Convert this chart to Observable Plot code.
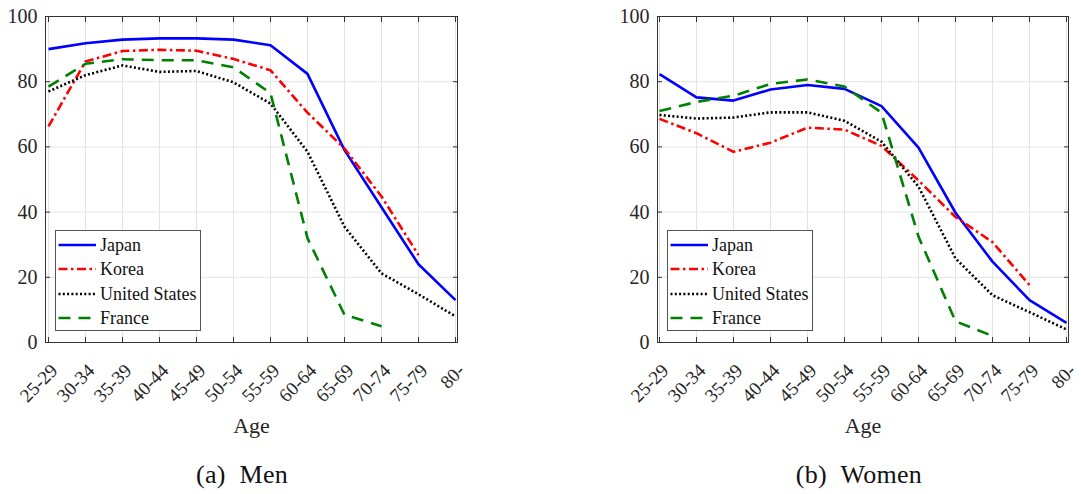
<!DOCTYPE html>
<html>
<head>
<meta charset="utf-8">
<script src="https://cdn.jsdelivr.net/npm/d3@7"></script>
<script src="https://cdn.jsdelivr.net/npm/@observablehq/plot@0.6"></script>
<style>
  html, body { margin: 0; padding: 0; background: white; }
  #root { position: relative; width: 1081px; height: 494px; overflow: hidden; font-family: "Liberation Serif", serif; color: #262626; }
  .panel { position: absolute; top: 0; height: 494px; }
  .legend { position: absolute; background: white; border: 1px solid #555; box-sizing: border-box; }
  .legend .row { position: absolute; left: 0; height: 24px; display: flex; align-items: center; }
  .legend .row svg { display: block; }
  .legend .row span { font-size: 18px; line-height: 18px; margin-left: 1px; color: #111; font-family: "Liberation Serif", serif; white-space: nowrap; }
  .caption { position: absolute; font-size: 26px; line-height: 26px; color: #111; white-space: nowrap; transform: translateX(-50%); font-family: "Liberation Serif", serif; word-spacing: 7px; letter-spacing: 0.3px; }
</style>
</head>
<body>
<div id="root"></div>
<script>
const ages = ["25-29","30-34","35-39","40-44","45-49","50-54","55-59","60-64","65-69","70-74","75-79","80-"];
const countries = ["Japan", "Korea", "United States", "France"];
const yTicks = [0, 20, 40, 60, 80, 100];

// Men (a)
const menJapan  = [90.0, 91.8, 92.9, 93.3, 93.3, 92.9, 91.2, 82.4, 59.0, 41.5, 24.0, 13.0];
const menKorea  = [66.3, 86.2, 89.4, 89.8, 89.5, 87.0, 83.5, 70.5, 59.5, 44.8, 26.8, null];
const menUS     = [77.0, 82.0, 85.0, 83.0, 83.3, 79.8, 73.3, 58.5, 35.5, 21.2, 14.8, 8.0];
const menFrance = [78.5, 85.5, 86.9, 86.6, 86.6, 84.4, 76.5, 32.0, 8.5, 5.0, null, null];

// Women (b)
const womenJapan  = [82.3, 75.2, 74.2, 77.6, 79.0, 77.8, 72.5, 59.8, 39.8, 24.8, 13.0, 6.0];
const womenKorea  = [68.6, 64.2, 58.5, 61.3, 65.9, 65.3, 60.3, 49.7, 38.5, 30.8, 17.6, null];
const womenUS     = [69.8, 68.7, 69.0, 70.6, 70.6, 68.0, 61.6, 47.8, 25.8, 14.5, 9.3, 4.0];
const womenFrance = [71.0, 73.8, 75.7, 79.3, 80.7, 78.5, 70.5, 32.5, 6.5, 2.0, null, null];

const lineStyles = {
  "Japan":         { stroke: "#0000ff", dash: null },
  "Korea":         { stroke: "#ff0000", dash: "9,3.5,2.5,3.5" },
  "United States": { stroke: "#000000", dash: "2,2.3" },
  "France":        { stroke: "#008000", dash: "12,8" }
};

const FONT = "'Liberation Serif', serif";

function makePanel(left, series, caption, m) {
  const panel = document.createElement("div");
  panel.className = "panel";
  panel.style.left = left + "px";
  panel.style.width = m.width + "px";

  const lineMarks = countries.map((c, k) => Plot.lineY(series[k], {
    x: ages,
    y: series[k],
    stroke: lineStyles[c].stroke,
    strokeWidth: 2.6,
    strokeDasharray: lineStyles[c].dash,
    strokeLinecap: "butt",
    strokeLinejoin: "round"
  }));

  const chart = Plot.plot({
    width: m.width,
    height: 440,
    marginLeft: m.ml,
    marginRight: m.mr,
    marginTop: 16,
    marginBottom: 98,
    style: { fontFamily: FONT, fontSize: "19px", color: "#262626", background: "white", overflow: "visible" },
    x: { type: "point", domain: ages, padding: 0 },
    y: { domain: [0, 100] },
    marks: [
      Plot.gridX(ages, { stroke: "#e3e3e3", strokeOpacity: 1 }),
      Plot.gridY(yTicks, { stroke: "#e3e3e3", strokeOpacity: 1 }),
      ...lineMarks,
      Plot.frame({ stroke: "#333", strokeWidth: 1 }),
      Plot.axisX(ages, { anchor: "bottom", tickSize: -5, tickFormat: () => "", label: null, stroke: "#333" }),
      Plot.axisX(ages, { anchor: "top", tickSize: -5, tickFormat: () => "", label: null, stroke: "#333" }),
      Plot.axisY(yTicks, { anchor: "left", tickSize: -5, tickFormat: () => "", label: null, stroke: "#333" }),
      Plot.axisY(yTicks, { anchor: "right", tickSize: -5, tickFormat: () => "", label: null, stroke: "#333" }),
      Plot.axisY(yTicks, { anchor: "left", tickSize: 0, tickPadding: 8, label: null, fill: "#262626", fontSize: 20 }),
      Plot.axisX(ages, { anchor: "bottom", tickSize: 0, tickRotate: -45, tickPadding: 25, dx: 6, fill: "#262626", fontSize: 19, label: null }),
      Plot.text(["Age"], { text: d => d, frameAnchor: "bottom", dy: 90, lineAnchor: "bottom", textAnchor: "middle", fontSize: 22, fill: "#262626" })
    ]
  });
  panel.appendChild(chart);

  // legend
  const lg = document.createElement("div");
  lg.className = "legend";
  lg.style.left = (m.ml + 10) + "px";
  lg.style.top = "230px";
  lg.style.width = "146px";
  lg.style.height = "101px";
  countries.forEach((c, k) => {
    const row = document.createElement("div");
    row.className = "row";
    row.style.top = (2 + k * 24.4) + "px";
    const s = lineStyles[c];
    row.innerHTML = `<svg width="43" height="24"><line x1="2.5" x2="40" y1="12" y2="12" stroke="${s.stroke}" stroke-width="2.6" ${s.dash ? `stroke-dasharray="${s.dash}"` : ""}/></svg><span>${c}</span>`;
    lg.appendChild(row);
  });
  panel.appendChild(lg);

  const cap = document.createElement("div");
  cap.className = "caption";
  cap.textContent = caption;
  cap.style.left = m.capX + "px";
  cap.style.top = "462px";
  panel.appendChild(cap);

  document.getElementById("root").appendChild(panel);
}

makePanel(0, [menJapan, menKorea, menUS, menFrance], "(a) Men", { width: 540, ml: 45, mr: 83, capX: 242 });
makePanel(540, [womenJapan, womenKorea, womenUS, womenFrance], "(b) Women", { width: 541, ml: 117, mr: 13, capX: 319 });
</script>
</body>
</html>
